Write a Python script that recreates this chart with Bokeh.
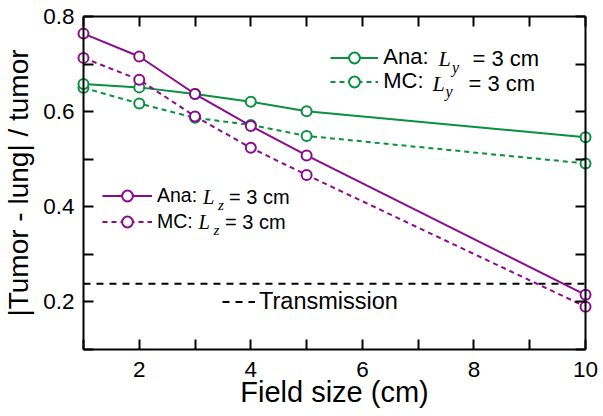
from bokeh.plotting import figure
from bokeh.models import (Range1d, LinearAxis, FixedTicker, Legend, LegendItem,
                          Label, CustomJSTickFormatter)
from bokeh.embed import file_html
from bokeh.resources import INLINE

# ---------------- data ----------------
field_size = [1, 2, 3, 4, 5, 10]
ana_lz = [0.764, 0.716, 0.637, 0.570, 0.508, 0.215]
mc_lz = [0.713, 0.667, 0.590, 0.524, 0.467, 0.190]
ana_ly = [0.658, 0.651, 0.637, 0.621, 0.601, 0.546]
mc_ly = [0.650, 0.617, 0.587, 0.572, 0.549, 0.491]
transmission = 0.238

x_limits = [1, 10]
y_limits = [0.1, 0.8]
x_ticks = [2, 4, 6, 8, 10]
x_minor = [1, 3, 5, 7, 9]
y_ticks = [0.2, 0.4, 0.6, 0.8]
y_minor = [0.1, 0.3, 0.5, 0.7]

x_label = "Field size (cm)"
y_label = "|Tumor - lung| / tumor"

PURPLE = "#8B0B8E"
GREEN = "#08913E"
SANS = "Liberation Sans"
SERIF = "Liberation Serif"

# small padding so that markers on the box edges are not clipped
pad_x = 0.125
pad_y = 0.0147

p = figure(width=603, height=416, output_backend="svg", toolbar_location=None,
           x_range=Range1d(x_limits[0] - pad_x, x_limits[1] + pad_x),
           y_range=Range1d(y_limits[0] - pad_y, y_limits[1] + pad_y),
           min_border_left=74, min_border_right=11, min_border_top=9,
           min_border_bottom=60)
p.grid.visible = False
p.outline_line_color = None
p.background_fill_color = "white"
p.border_fill_color = "white"


def box_axis(ax):
    ax.axis_line_width = 2
    ax.axis_line_color = "black"
    ax.major_tick_line_width = 2
    ax.minor_tick_line_width = 2
    ax.major_tick_in = 10
    ax.major_tick_out = 0
    ax.minor_tick_in = 10
    ax.minor_tick_out = 0
    ax.major_tick_line_color = "black"
    ax.minor_tick_line_color = "black"
    ax.formatter = CustomJSTickFormatter(code="return ''")
    ax.major_label_text_font_size = "0px"
    ax.major_label_standoff = 0


def label_axis(ax, label_size):
    ax.axis_line_color = None
    ax.major_tick_line_color = None
    ax.minor_tick_line_color = None
    ax.major_tick_in = 0
    ax.major_tick_out = 0
    ax.minor_tick_in = 0
    ax.minor_tick_out = 0
    ax.major_label_text_font = SANS
    ax.major_label_text_font_size = "22.5px"
    ax.major_label_text_color = "black"
    ax.axis_label_text_font = SANS
    ax.axis_label_text_font_size = label_size
    ax.axis_label_text_font_style = "normal"
    ax.axis_label_text_color = "black"


# axes carrying the labels (at the frame edges)
xaxis = p.xaxis[0]
yaxis = p.yaxis[0]
xaxis.ticker = FixedTicker(ticks=x_ticks, minor_ticks=x_minor)
yaxis.ticker = FixedTicker(ticks=y_ticks, minor_ticks=y_minor)
label_axis(xaxis, "29px")
label_axis(yaxis, "28px")
xaxis.major_label_standoff = 5
yaxis.major_label_standoff = 2
xaxis.axis_label = x_label
yaxis.axis_label = y_label
xaxis.axis_label_standoff = -4
yaxis.axis_label_standoff = 6

# axes drawing the box and the inward ticks (at the data limits)
for loc, fixed, is_x in (("below", y_limits[0], True), ("above", y_limits[1], True),
                         ("left", x_limits[0], False), ("right", x_limits[1], False)):
    if is_x:
        ax = LinearAxis(ticker=FixedTicker(ticks=x_ticks, minor_ticks=x_minor),
                        fixed_location=fixed, bounds=tuple(x_limits))
    else:
        ax = LinearAxis(ticker=FixedTicker(ticks=y_ticks, minor_ticks=y_minor),
                        fixed_location=fixed, bounds=tuple(y_limits))
    box_axis(ax)
    p.add_layout(ax, loc)


# ---------------- series ----------------
def series(y, color, dash):
    rl = p.line(field_size, y, line_color=color, line_width=2, line_dash=dash)
    rs = p.scatter(field_size, y, marker="circle", size=10, line_color=color,
                   line_width=2, fill_color="white")
    return [rl, rs]


r_trans = p.line(x_limits, [transmission, transmission], line_color="black",
                 line_width=2, line_dash="7 6")
r_mc_ly = series(mc_ly, GREEN, "5 4")
r_ana_ly = series(ana_ly, GREEN, "solid")
r_mc_lz = series(mc_lz, PURPLE, "5 4")
r_ana_lz = series(ana_lz, PURPLE, "solid")


# ---------------- legends ----------------
# positions are screen pixels from the bottom-left corner of the plot frame
def add_legend(renderers, text, fsize, x_rel, yc_rel, gw, standoff):
    h = 27
    leg = Legend(items=[LegendItem(label=text, renderers=renderers)],
                 location=(x_rel, yc_rel - h / 2), orientation="vertical",
                 glyph_width=gw, glyph_height=h, label_height=h,
                 label_standoff=standoff, padding=0, margin=0, spacing=0,
                 border_line_color=None, background_fill_alpha=0,
                 label_text_font=SANS, label_text_font_size=f"{fsize}px",
                 label_text_color="black", label_text_baseline="middle")
    p.add_layout(leg)


def add_text(text, x_rel, yc_rel, fsize, font=SANS, style="normal"):
    p.add_layout(Label(x=x_rel, y=yc_rel, x_units="screen", y_units="screen",
                       text=text, text_font=font, text_font_size=f"{fsize}px",
                       text_font_style=style, text_baseline="middle",
                       text_align="left", text_color="black"))


# Ly legend
add_legend(r_ana_ly, "Ana:", 22, 254.3, 298.7, 48, 5)
add_legend(r_mc_ly, "MC:", 22, 254.3, 275.0, 48, 5)
add_text("L", 362, 297.8, 22, SERIF, "italic")
add_text("y", 375.5, 289, 16, SERIF, "italic")
add_text("= 3 cm", 396, 297.8, 22)
add_text("L", 356, 273.5, 22, SERIF, "italic")
add_text("y", 369, 264.7, 16, SERIF, "italic")
add_text("= 3 cm", 392, 273.5, 22)

# Lz legend
add_legend(r_ana_lz, "Ana:", 19.5, 26, 161, 50, 5)
add_legend(r_mc_lz, "MC:", 19.5, 26, 135, 50, 5)
add_text("L", 126.5, 159.7, 20.5, SERIF, "italic")
add_text("z", 141.5, 152, 15, SERIF, "italic")
add_text("= 3 cm", 152.5, 159.7, 20)
add_text("L", 122, 134.1, 20.5, SERIF, "italic")
add_text("z", 137, 126.4, 15, SERIF, "italic")
add_text("= 3 cm", 148.5, 134.1, 20)

# Transmission legend
add_legend([r_trans], "Transmission", 23.5, 146, 55, 33, 4)

open("out.html", "w").write(file_html(p, INLINE))
